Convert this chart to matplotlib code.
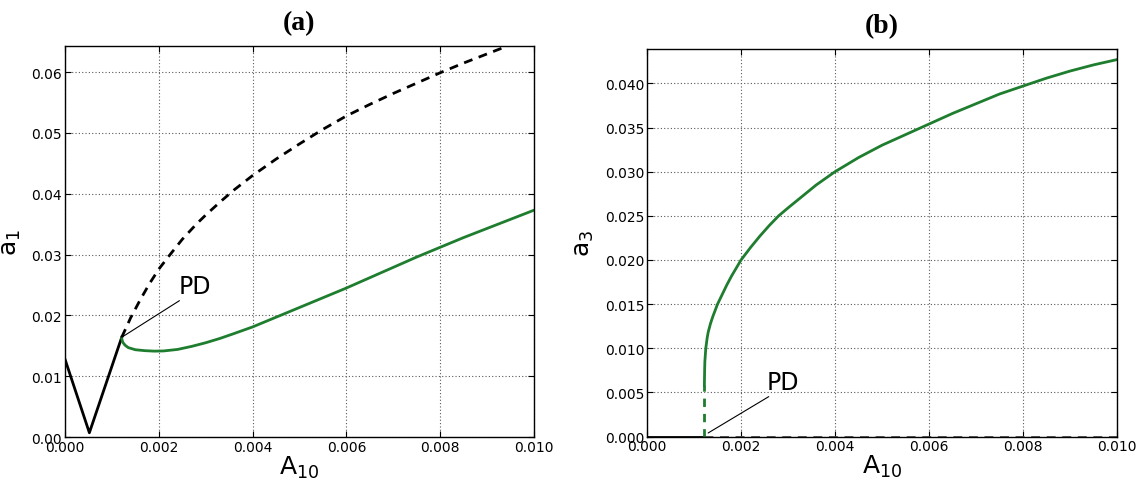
import numpy as np
import matplotlib
matplotlib.use('Agg')
import matplotlib.pyplot as plt
from matplotlib.ticker import FormatStrFormatter

# panel (a): first harmonic amplitude a1 vs A10
a_stable_x = [0.0, 0.00052, 0.00121]
a_stable_y = [0.0128, 0.0007, 0.0164]

a_unst_x = [0.00121, 0.0014, 0.0016, 0.0018, 0.002, 0.0022, 0.0025, 0.0028, 0.003,
            0.0033, 0.0036, 0.004, 0.0045, 0.005, 0.0055, 0.006, 0.0065, 0.007,
            0.0075, 0.008, 0.0085, 0.009, 0.0095, 0.010]
a_unst_y = [0.0164, 0.0196, 0.0225, 0.0252, 0.0276, 0.0296, 0.0325, 0.0350, 0.0365,
            0.0386, 0.0406, 0.0430, 0.0457, 0.0482, 0.0506, 0.0528, 0.0547, 0.0565,
            0.0582, 0.0599, 0.0615, 0.0630, 0.0645, 0.0660]

a_pd_x = [0.00121, 0.00123, 0.00128, 0.00135, 0.0015, 0.0017, 0.0019, 0.0021, 0.0024,
          0.0027, 0.003, 0.0033, 0.0036, 0.004, 0.0045, 0.005, 0.0055, 0.006, 0.0065,
          0.007, 0.0075, 0.008, 0.0085, 0.009, 0.0095, 0.010]
a_pd_y = [0.0162, 0.0156, 0.0151, 0.0147, 0.01435, 0.0142, 0.01412, 0.01415, 0.0144,
          0.0149, 0.0155, 0.0162, 0.0170, 0.0181, 0.0197, 0.0213, 0.0229, 0.0245, 0.0262,
          0.0279, 0.0296, 0.0312, 0.0328, 0.0343, 0.0358, 0.0373]

# panel (b): third harmonic amplitude a3 vs A10
b_zero_x = [0.0, 0.00122]
b_zero_dash_x = [0.00122, 0.010]
b_vert_y = [0.0, 0.0058]
b_pd_x = [0.00122, 0.001225, 0.00123, 0.00125, 0.00128, 0.0013, 0.00135, 0.0014,
          0.0015, 0.0016, 0.0017, 0.0018, 0.0019, 0.002, 0.0022, 0.0024, 0.0026,
          0.0028, 0.003, 0.0033, 0.0036, 0.004, 0.0045, 0.005, 0.0055, 0.006,
          0.0065, 0.007, 0.0075, 0.008, 0.0085, 0.009, 0.0095, 0.010]
b_pd_y = [0.0058, 0.0075, 0.0085, 0.0100, 0.0112, 0.0118, 0.0128, 0.0136,
          0.0150, 0.0161, 0.0172, 0.0182, 0.0191, 0.0200, 0.0214, 0.0227, 0.0239,
          0.0250, 0.0259, 0.0272, 0.0285, 0.0300, 0.0316, 0.0330, 0.0342, 0.0354,
          0.0366, 0.0377, 0.0388, 0.0397, 0.0406, 0.0414, 0.0421, 0.0427]

green = '#1e7d2e'

plt.rcParams['font.family'] = 'DejaVu Sans'
plt.rcParams['mathtext.fontset'] = 'dejavusans'

fig = plt.figure(figsize=(11.42, 4.85), dpi=100)
ax1 = fig.add_axes([0.0569, 0.0969, 0.4107, 0.8062])
ax2 = fig.add_axes([0.5666, 0.0979, 0.4115, 0.7990])

ax1.plot(a_stable_x, a_stable_y, color='k', lw=2)
ax1.plot(a_unst_x, a_unst_y, color='k', lw=2, ls='--', dashes=(3.2, 2.4))
ax1.plot(a_pd_x, a_pd_y, color=green, lw=2)
ax1.annotate('PD', xy=(0.00121, 0.0164), xytext=(0.00243, 0.0237),
             fontsize=17, arrowprops=dict(arrowstyle='-', color='k', lw=0.8,
                                          shrinkA=0, shrinkB=0, relpos=(0.15, 0)))
ax1.set_xlim(0, 0.010)
ax1.set_ylim(0, 0.0643)
ax1.set_yticks(np.arange(0, 0.061, 0.01))
ax1.yaxis.set_major_formatter(FormatStrFormatter('%.2f'))
ax1.set_ylabel(r'$\mathrm{a}_1$', fontsize=18, labelpad=6)
ax1.set_title('(a)', fontsize=20, fontweight='bold', family='Liberation Serif', pad=12)

ax2.plot(b_zero_x, [0, 0], color='k', lw=2)
ax2.plot(b_zero_dash_x, [0, 0], color='0.3', lw=2, ls='--', dashes=(3.2, 2.4))
ax2.plot([0.00122, 0.00122], b_vert_y, color=green, lw=2, ls='--', dashes=(3, 2.5))
ax2.plot(b_pd_x, b_pd_y, color=green, lw=2)
ax2.annotate('PD', xy=(0.0013, 0.0004), xytext=(0.00255, 0.0054),
             fontsize=17, arrowprops=dict(arrowstyle='-', color='k', lw=0.8,
                                          shrinkA=0, shrinkB=0, relpos=(0.2, 0)))
ax2.set_xlim(0, 0.010)
ax2.set_ylim(0, 0.0439)
ax2.set_yticks(np.arange(0, 0.0401, 0.005))
ax2.yaxis.set_major_formatter(FormatStrFormatter('%.3f'))
ax2.set_ylabel(r'$\mathrm{a}_3$', fontsize=18, labelpad=6)
ax2.set_title('(b)', fontsize=20, fontweight='bold', family='Liberation Serif', pad=12)

for ax in (ax1, ax2):
    ax.set_xticks(np.arange(0, 0.0101, 0.002))
    ax.xaxis.set_major_formatter(FormatStrFormatter('%.3f'))
    ax.set_xlabel(r'$\mathrm{A}_{10}$', fontsize=18, labelpad=0)
    ax.tick_params(direction='in', top=True, right=True, labelsize=10, length=4, pad=2)
    ax.grid(True, ls=(0, (1, 2)), color='0.35', lw=0.8)
    for s in ax.spines.values():
        s.set_linewidth(1.0)

fig.savefig('out.png', dpi=100)
